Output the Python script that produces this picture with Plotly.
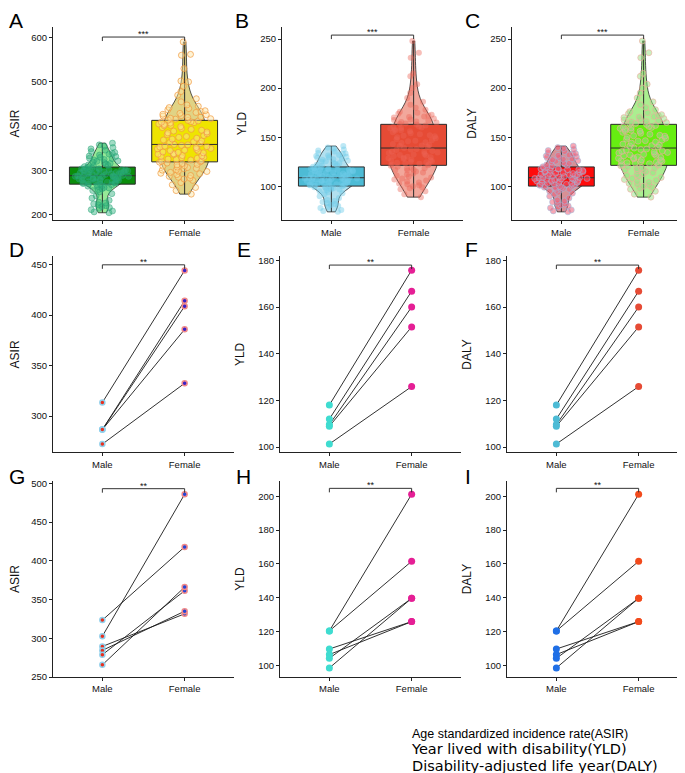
import plotly.graph_objects as go

# ---------------- data ----------------
groups = ["Male", "Female"]

# top row (A): ASIR sample values
asir_male = [205, 207, 209, 212, 215, 217, 219, 221, 223, 225, 227, 229,
             233, 238, 243, 248, 252, 255, 257,
             259, 261, 262, 264, 265, 266, 267, 268, 269,
             270, 271, 272, 272, 273, 274, 275, 275, 276, 277, 278, 278, 279, 280,
             281, 281, 282, 283, 283, 284, 285, 285, 286, 286, 287, 287, 288,
             288, 289, 289, 290, 291, 291, 292, 293, 293, 294, 295, 295, 296, 297,
             297, 298, 299, 299, 300, 301, 301, 302, 302, 303, 304, 304, 305,
             306, 307, 309, 310, 312, 313, 315, 316, 318, 319, 321, 322, 324, 325,
             327, 328, 330, 332, 333, 335, 337, 339, 341, 343,
             346, 349, 352, 355, 358, 362]
asir_female = [247, 255, 262, 268, 273, 278,
               281, 283, 285, 287, 289, 291, 293, 294, 296, 298, 299, 301, 302, 304,
               305, 307, 308, 310, 311, 313, 314, 316, 317, 319,
               320, 321, 322, 324, 325, 326, 328, 329, 330, 332, 333, 334, 336, 337,
               338, 340, 341, 342, 344, 345, 346, 348, 349, 350, 352, 353, 354, 355,
               357, 358,
               359, 361, 363, 365, 367, 369, 371, 373, 375, 377, 379, 381, 383, 385,
               387, 389, 391, 393, 395, 397, 399, 401, 402, 404, 405, 407, 408, 409,
               410, 412,
               413, 414, 416, 417, 418, 420, 421, 423, 424, 426, 427, 429, 431, 433,
               435, 437, 440, 442, 445, 448,
               455, 462, 470, 478, 490, 500, 502, 530, 560, 562, 590]

# top row (B): YLD sample values
yld_male = [74, 75, 76, 78, 79, 80, 81, 82, 83, 84, 85, 86,
            88, 90, 92, 93, 94, 95, 96,
            97, 97, 98, 98, 99, 99, 99, 100, 100,
            100.5, 101, 101, 101.5, 102, 102, 102.5, 103, 103, 103.5, 104, 104,
            104.5, 105, 105, 105.5, 106, 106, 106.5, 106.5, 107, 107, 107.5, 107.5,
            108, 108, 108.4,
            108.5, 109, 109, 109.5, 110, 110.5, 111, 111, 111.5, 112, 112.5, 113,
            113, 113.5, 114, 114.5, 115, 115, 115.5, 116, 116.5, 117, 117, 117.5,
            118, 118, 118.5,
            119, 119.5, 120, 121, 121.5, 122, 123, 123.5, 124, 125, 125.5, 126, 127,
            127.5, 128, 129, 129.5, 130, 131, 131.5, 132, 133, 133.5, 134,
            135.5, 136.5, 137.5, 138.5, 139.5, 141]
yld_female = [89, 92, 95, 97, 98, 99,
              100, 101, 102, 103, 104, 105, 106, 107, 108, 109, 110, 111, 112, 113,
              114, 115, 116, 116.5, 117, 118, 118.5, 119, 120, 121,
              121.5, 122, 122.5, 123, 123.5, 124, 124.5, 125, 125.5, 126, 126.5, 127,
              128, 128.5, 129, 129.5, 130, 131, 131.5, 132, 132.5, 133, 134, 134.5,
              135, 135.5, 136, 137, 137.5, 138,
              139, 140, 141, 141.5, 142, 143, 144, 145, 146, 146.5, 147, 148, 149,
              150, 151, 151.5, 152, 153, 154, 155, 156, 156.5, 157, 158, 159, 159.5,
              160, 160.5, 161, 162,
              163, 163.5, 164, 165, 165.5, 166, 167, 167.5, 168, 169, 170, 170.5, 171,
              172, 173, 174, 175, 176, 178, 180,
              183, 186, 190, 195, 200, 204, 212, 215, 231, 236, 248]

# top row (C): DALY sample values (identical to YLD in the figure)
daly_male = list(yld_male)
daly_female = list(yld_female)

# paired panels
d_male = [313.4, 286.6, 286.6, 286.6, 272.2]
d_female = [444.1, 414.0, 408.7, 385.8, 332.4]
e_male = [118.0, 112.0, 109.6, 108.9, 101.3]
e_female = [175.8, 166.8, 160.0, 151.5, 125.9]
f_male = [118.0, 112.0, 109.6, 108.9, 101.3]
f_female = [175.8, 166.8, 160.0, 151.5, 125.9]
g_male = [323.5, 302.7, 289.5, 284.4, 278.8, 265.7]
g_female = [418.0, 486.0, 331.6, 335.0, 361.4, 366.1]
h_male = [120.3, 120.3, 109.6, 106.3, 104.1, 98.4]
h_female = [201.2, 161.5, 125.8, 125.8, 139.6, 139.6]
i_male = [120.3, 120.3, 109.6, 106.3, 104.1, 98.4]
i_female = [201.2, 161.5, 125.8, 125.8, 139.6, 139.6]

y_titles = ["ASIR", "YLD", "DALY", "ASIR", "YLD", "DALY", "ASIR", "YLD", "DALY"]
panel_letters = ["A", "B", "C", "D", "E", "F", "G", "H", "I"]
sig_labels = ["***", "***", "***", "**", "**", "**", "**", "**", "**"]
y_ticks = [[200, 300, 400, 500, 600], [100, 150, 200, 250], [100, 150, 200, 250],
           [300, 350, 400, 450], [100, 120, 140, 160, 180], [100, 120, 140, 160, 180],
           [250, 300, 350, 400, 450, 500], [100, 120, 140, 160, 180, 200],
           [100, 120, 140, 160, 180, 200]]
legend_lines = ["Age standardized incidence rate(ASIR)",
                "Year lived with disability(YLD)",
                "Disability-adjusted life year(DALY)"]

# ---------------- layout geometry ----------------
W, H = 685, 773
FONT = "Liberation Sans, Arial, sans-serif"
# (left, right, top, bottom) in pixels
boxes = [(45, 226, 16, 211.5), (274, 455, 16, 211.5), (504, 685, 16, 211.5),
         (45, 226, 248, 446), (272, 453, 248, 446), (499, 680, 248, 446),
         (45, 226, 475, 673), (272, 453, 475, 673), (499, 680, 475, 673)]
y_ranges = [(188, 624), (65.4, 262.4), (65.4, 262.4),
            (264, 458), (97.7, 181.7), (97.7, 181.7),
            (250, 503), (93, 209), (93, 209)]
bracket_y = [601, 254, 254, 449.7, 178.0, 178.0, 493.2, 204.7, 204.7]
# letter positions (x left edge, y centre) in pixels
letter_pos = [(-1, 10), (225, 10), (455, 10), (-1, 241), (227, 241), (455, 241),
              (-1, 470), (226, 470), (455, 470)]

fig = go.Figure()

# ---------------- top row: violin + box + jitter ----------------
top_sets = [
    (asir_male, asir_female,
     dict(vm="rgba(125,228,125,0.8)", vf="rgba(218,203,112,0.85)",
          bm="#0b8d0b", bf="#eee400",
          pm=dict(color="rgba(45,175,125,0.45)", line=dict(color="rgba(35,160,115,0.55)", width=0.8)),
          pf=dict(color="rgba(252,228,160,0.45)", line=dict(color="rgba(240,150,60,0.75)", width=0.9)))),
    (yld_male, yld_female,
     dict(vm="rgba(165,218,236,0.85)", vf="rgba(240,152,138,0.85)",
          bm="#4DBBD5", bf="#E64B35",
          pm=dict(color="rgba(110,205,232,0.45)", line=dict(width=0)),
          pf=dict(color="rgba(236,100,86,0.42)", line=dict(width=0)))),
    (daly_male, daly_female,
     dict(vm="rgba(212,132,138,0.9)", vf="rgba(162,236,132,0.9)",
          bm="#ff0b0b", bf="#66ee11",
          pm=dict(color="rgba(238,95,120,0.55)", line=dict(color="rgba(150,195,230,0.7)", width=0.7)),
          pf=dict(color="rgba(150,226,130,0.5)", line=dict(color="rgba(242,170,160,0.75)", width=0.8)))),
]

for k, (mv, fv, st) in enumerate(top_sets):
    ax = "" if k == 0 else str(k + 1)
    xa, ya = "x" + ax, "y" + ax
    for vals, g, vcol, bcol, pmark, vw in [(mv, groups[0], st["vm"], st["bm"], st["pm"], 0.6),
                                           (fv, groups[1], st["vf"], st["bf"], st["pf"], 0.6)]:
        fig.add_trace(go.Violin(x=[g] * len(vals), y=vals, xaxis=xa, yaxis=ya,
                                fillcolor=vcol, line=dict(color="#111", width=0.7),
                                points=False, spanmode="hard", width=vw,
                                scalemode="width", box_visible=False,
                                meanline_visible=False, showlegend=False))
        fig.add_trace(go.Box(x=[g] * len(vals), y=vals, xaxis=xa, yaxis=ya,
                             fillcolor=bcol, line=dict(color="#2a2a2a", width=1),
                             boxpoints=False, width=0.8, whiskerwidth=0,
                             showlegend=False))
        fig.add_trace(go.Box(x=[g] * len(vals), y=vals, xaxis=xa, yaxis=ya,
                             fillcolor="rgba(0,0,0,0)",
                             line=dict(color="rgba(0,0,0,0)", width=0),
                             boxpoints="all", jitter=0.85, pointpos=0, width=0.8,
                             whiskerwidth=0,
                             marker=dict(size=6, **pmark), showlegend=False))

# ---------------- paired panels ----------------
pair_sets = [
    (d_male, d_female, dict(color="#e8301f", size=5, line=dict(color="#8fd0ec", width=1.5)),
     dict(color="#3a22c8", size=5, line=dict(color="#f08a8a", width=1.5))),
    (e_male, e_female, dict(color="#3fdcd0", size=7, line=dict(width=0)),
     dict(color="#e51f95", size=7, line=dict(width=0))),
    (f_male, f_female, dict(color="#4DBBD5", size=7, line=dict(width=0)),
     dict(color="#E64B35", size=7, line=dict(width=0))),
    (g_male, g_female, dict(color="#e8301f", size=5, line=dict(color="#8fd0ec", width=1.5)),
     dict(color="#2346d8", size=5, line=dict(color="#f08a8a", width=1.5))),
    (h_male, h_female, dict(color="#3fdcd0", size=7, line=dict(width=0)),
     dict(color="#e51f95", size=7, line=dict(width=0))),
    (i_male, i_female, dict(color="#1f6fe6", size=7, line=dict(width=0)),
     dict(color="#f24a1c", size=7, line=dict(width=0))),
]

for k, (mv, fv, mm, fm) in enumerate(pair_sets):
    n = k + 4
    xa, ya = "x%d" % n, "y%d" % n
    lx, ly = [], []
    for a, b in zip(mv, fv):
        lx += [groups[0], groups[1], None]
        ly += [a, b, None]
    fig.add_trace(go.Scatter(x=lx, y=ly, mode="lines", xaxis=xa, yaxis=ya,
                             line=dict(color="#1a1a1a", width=0.9),
                             showlegend=False, hoverinfo="skip"))
    fig.add_trace(go.Scatter(x=[groups[0]] * len(mv), y=mv, mode="markers",
                             xaxis=xa, yaxis=ya, marker=mm, showlegend=False))
    fig.add_trace(go.Scatter(x=[groups[1]] * len(fv), y=fv, mode="markers",
                             xaxis=xa, yaxis=ya, marker=fm, showlegend=False))

# ---------------- axes ----------------
layout = dict(width=W, height=H, margin=dict(l=0, r=0, t=0, b=0),
              paper_bgcolor="white", plot_bgcolor="white", showlegend=False,
              boxmode="overlay", violinmode="overlay",
              font=dict(family=FONT, color="#111"))
for i in range(9):
    n = "" if i == 0 else str(i + 1)
    l, r, t, b = boxes[i]
    layout["xaxis" + n] = dict(
        domain=[l / W, r / W], anchor="y" + n, type="category",
        categoryorder="array", categoryarray=groups, range=[-0.6, 1.6],
        showline=True, linecolor="#222", linewidth=1, ticks="outside",
        ticklen=3, tickcolor="#222", tickfont=dict(size=9.5, family=FONT, color="#111"),
        showgrid=False, zeroline=False, fixedrange=True)
    layout["yaxis" + n] = dict(
        domain=[1 - b / H, 1 - t / H], anchor="x" + n, range=list(y_ranges[i]),
        tickvals=y_ticks[i], showline=True, linecolor="#222", linewidth=1,
        ticks="outside", ticklen=3, tickcolor="#222",
        tickfont=dict(size=9.5, family=FONT, color="#111"),
        showgrid=False, zeroline=False, fixedrange=True,
        title=dict(text=y_titles[i], font=dict(size=12, family=FONT, color="#111"),
                   standoff=11))

shapes, annotations = [], []
for i in range(9):
    n = "" if i == 0 else str(i + 1)
    xr, yr = "x" + n, "y" + n
    yb = bracket_y[i]
    shapes.append(dict(type="line", xref=xr, yref=yr, x0=0, x1=1, y0=yb, y1=yb,
                       line=dict(color="#333", width=1)))
    for xx in (0, 1):
        shapes.append(dict(type="line", xref=xr, yref=yr, x0=xx, x1=xx,
                           ysizemode="pixel", yanchor=yb, y0=0, y1=-4,
                           line=dict(color="#333", width=1)))
    annotations.append(dict(xref=xr, yref=yr, x=0.5, y=yb, text=sig_labels[i],
                            showarrow=False, yanchor="bottom", yshift=-4,
                            font=dict(size=9, family=FONT, color="#111")))
    lx, ly = letter_pos[i]
    annotations.append(dict(xref="paper", yref="paper", x=lx / W, y=1 - ly / H,
                            xanchor="left", yanchor="middle", text=panel_letters[i],
                            showarrow=False,
                            font=dict(size=21, family=FONT, color="#000")))

# bottom text block: one annotation, three lines
leg_text = ("%s<br>"
            "<span style='font-family:DejaVu Sans;font-size:14.5px'>%s</span><br>"
            "<span style='font-family:DejaVu Sans;font-size:14.5px'>%s</span>"
            % tuple(legend_lines))
annotations.append(dict(xref="paper", yref="paper", x=401 / W, y=1 - 747 / H,
                        xanchor="left", yanchor="middle", align="left",
                        text=leg_text, showarrow=False,
                        font=dict(size=12.5, family=FONT, color="#000")))

layout["shapes"] = shapes
layout["annotations"] = annotations
fig.update_layout(**layout)
fig.write_html("out.html")
